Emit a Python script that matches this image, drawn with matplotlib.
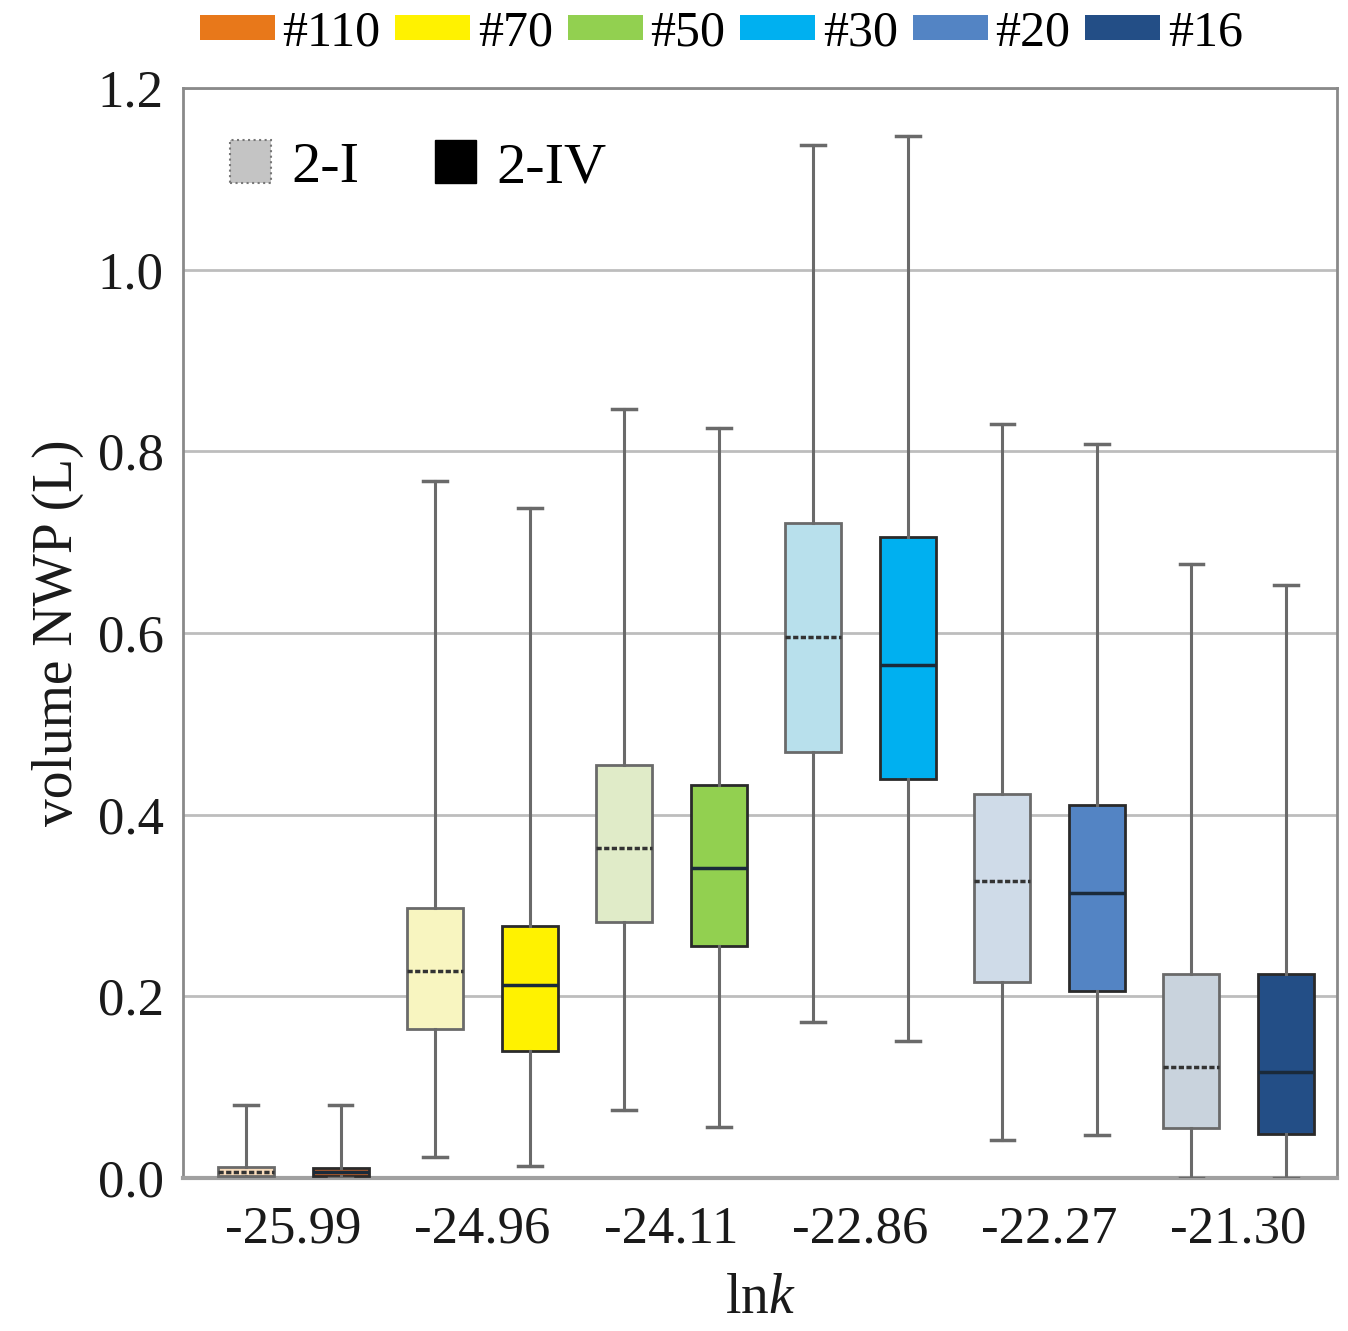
import matplotlib
matplotlib.use("Agg")
import matplotlib.pyplot as plt
from matplotlib.patches import Patch

plt.rcParams['font.family'] = ['Liberation Serif', 'DejaVu Serif']
plt.rcParams['mathtext.fontset'] = 'custom'
plt.rcParams['mathtext.it'] = 'Liberation Serif:italic'
plt.rcParams['mathtext.rm'] = 'Liberation Serif'

# ---- data ----
categories = ['-25.99', '-24.96', '-24.11', '-22.86', '-22.27', '-21.30']
series_names = ['#110', '#70', '#50', '#30', '#20', '#16']
groups = ['2-I', '2-IV']
# per box (2-I, 2-IV for each category): whislo, q1, med, q3, whishi
whislo = [0.000, 0.000, 0.023, 0.013, 0.075, 0.056, 0.172, 0.151, 0.042, 0.047, 0.000, 0.000]
q1     = [0.002, 0.002, 0.164, 0.140, 0.282, 0.255, 0.469, 0.439, 0.216, 0.206, 0.055, 0.048]
med    = [0.006, 0.006, 0.228, 0.212, 0.363, 0.341, 0.595, 0.565, 0.327, 0.314, 0.122, 0.117]
q3     = [0.012, 0.011, 0.297, 0.277, 0.455, 0.433, 0.721, 0.706, 0.423, 0.410, 0.224, 0.224]
whishi = [0.080, 0.080, 0.767, 0.738, 0.847, 0.825, 1.137, 1.147, 0.830, 0.808, 0.676, 0.653]

dark_colors = ['#e8781a', '#fff200', '#92d050', '#00b0f0', '#5384c4', '#234e86']
light_colors = ['#f8dcbc', '#f8f5c0', '#e0ebc8', '#b8e0ec', '#cfdbe8', '#c9d3dd']

fig = plt.figure(figsize=(13.48, 13.31), dpi=100)
ax = fig.add_axes([0.1358, 0.115, 0.856, 0.819])

stats = []
for i in range(len(med)):
    stats.append(dict(whislo=whislo[i], q1=q1[i], med=med[i], q3=q3[i], whishi=whishi[i], fliers=[]))

positions = list(range(1, len(stats) + 1))
for i, st in enumerate(stats):
    cat = i // 2
    is_dark = (i % 2 == 1)
    face = dark_colors[cat] if is_dark else light_colors[cat]
    edge = '#2a2a2a' if is_dark else '#6a6a6a'
    medc = '#1a2a3a' if is_dark else '#333333'
    if cat == 0 and is_dark:
        face = '#c0602a'
    ax.bxp([st], positions=[positions[i]], widths=0.59, patch_artist=True,
           showfliers=False,
           boxprops=dict(facecolor=face, edgecolor=edge, linewidth=2),
           medianprops=dict(color=medc, linewidth=2.5,
                            linestyle='-' if is_dark else (0, (1.5, 0.7))),
           whiskerprops=dict(color='#6a6a6a', linewidth=2.2),
           capprops=dict(color='#6a6a6a', linewidth=2.5),
           capwidths=0.25, zorder=3)

ax.set_xlim(0.333, 12.54)
ax.set_ylim(0, 1.2)
ax.set_yticks([0.0, 0.2, 0.4, 0.6, 0.8, 1.0, 1.2])
ax.set_yticklabels(['%.1f' % v for v in [0.0, 0.2, 0.4, 0.6, 0.8, 1.0, 1.2]])
ax.set_xticks([1.5 + 2 * k for k in range(len(categories))])
ax.set_xticklabels(categories)
ax.tick_params(axis='both', length=0, labelsize=38, colors='#1a1a1a')
ax.tick_params(axis='y', pad=14)
ax.tick_params(axis='x', pad=20)
ax.yaxis.grid(True, color='#bdbdbd', linewidth=2)
ax.set_axisbelow(True)
for s in ax.spines.values():
    s.set_color('#8a8a8a')
    s.set_linewidth(2)
ax.spines['bottom'].set_color('#a0a0a0')
ax.spines['bottom'].set_linewidth(3)

ax.set_ylabel('volume NWP (L)', fontsize=40, labelpad=10, color='#1a1a1a')
ax.set_xlabel('ln$k$', fontsize=40, labelpad=14, color='#1a1a1a')

# inner legend
inner_handles = [Patch(facecolor='#c4c4c4', edgecolor='#777777', linestyle=':', linewidth=1.5),
                 Patch(facecolor='#000000', edgecolor='#000000')]
leg = ax.legend(inner_handles, groups, loc='upper left', ncol=2, fontsize=42,
                frameon=False, handlelength=0.7, handleheight=0.75,
                columnspacing=1.3, handletextpad=0.35,
                bbox_to_anchor=(-0.005, 1.0))

# top legend
top_handles = [Patch(facecolor=c, edgecolor='none') for c in dark_colors]
fig.legend(top_handles, series_names, loc='center', ncol=6, fontsize=36,
           frameon=False, handlelength=1.5, handleheight=0.4,
           handletextpad=0.15, columnspacing=0.3,
           bbox_to_anchor=(0.535, 0.975))

fig.savefig('out.png', dpi=100)
